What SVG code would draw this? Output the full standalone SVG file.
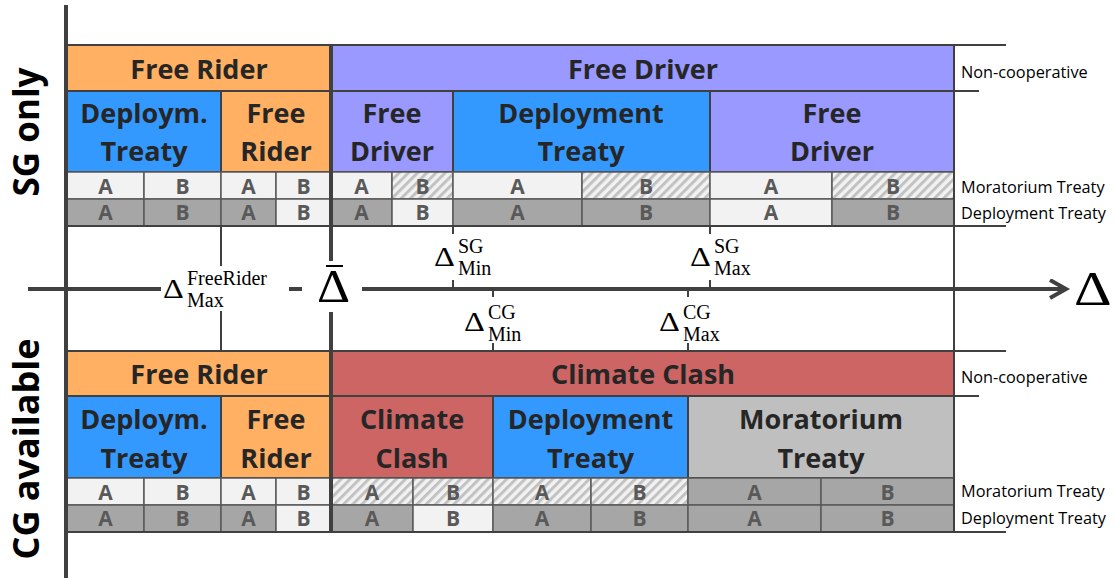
<svg xmlns="http://www.w3.org/2000/svg" width="1117" height="581" viewBox="0 0 1117 581">
<style>
.bg{fill:#ffffff}
.or{fill:#FFB063}
.pu{fill:#9999FF}
.bl{fill:#3399FF}
.rd{fill:#CD6565}
.gy{fill:#BFBFBF}
.L{fill:#F2F2F2}
.D{fill:#A6A6A6}
.H{fill:url(#hatch)}
.cell{stroke:#404040;stroke-width:2}
.ab{stroke:#595959;stroke-width:1.5}
.t{font-family:"Open Sans","Liberation Sans",sans-serif;font-weight:700;font-size:27px;fill:#262626;text-anchor:middle}
.l{font-family:"Open Sans","Liberation Sans",sans-serif;font-weight:700;font-size:21px;fill:#595959;text-anchor:middle}
.s{font-family:"Open Sans","Liberation Sans",sans-serif;font-weight:400;font-size:16.3px;fill:#000}
.side{font-family:"Open Sans","Liberation Sans",sans-serif;font-weight:700;fill:#000;text-anchor:middle}
.m{font-family:"Liberation Serif","DejaVu Serif",serif;fill:#000}
.d{font-size:27px}
.sc{font-size:20px}
.ln{stroke:#404040;stroke-width:2;fill:none}
.thk{stroke:#404040;stroke-width:4;fill:none}
</style>
<defs>
<pattern id="hatch" patternUnits="userSpaceOnUse" width="6.5" height="6.5" patternTransform="rotate(45)">
<rect width="6.5" height="6.5" fill="#F2F2F2"/>
<rect x="0" y="0" width="3" height="6.5" fill="#C2C2C2"/>
</pattern>
<marker id="chev" markerUnits="userSpaceOnUse" markerWidth="24" markerHeight="24" refX="18" refY="10" orient="auto">
<polyline points="2,1 18,10 2,19" fill="none" stroke="#404040" stroke-width="4" stroke-linejoin="miter"/>
</marker>
</defs>
<rect class="bg" x="0" y="0" width="1117" height="581"/>

<!-- side labels -->
<g id="label-sg-only"><text class="side" font-size="35" transform="translate(39,132) rotate(-90)">SG  only</text></g>
<g id="label-cg-available"><text class="side" font-size="36" transform="translate(39,449) rotate(-90)">CG available</text></g>

<!-- TOP SECTION -->
<g id="top-nc-free-rider"><rect class="cell or" x="67" y="45" width="264" height="46"/><text class="t" x="199" y="79">Free Rider</text></g>
<g id="top-nc-free-driver"><rect class="cell pu" x="331" y="45" width="623" height="46"/><text class="t" x="643" y="79">Free Driver</text></g>

<g id="top-c1-deploym-treaty"><rect class="cell bl" x="67" y="91" width="154" height="81"/><text class="t" x="144" y="123">Deploym.</text><text class="t" x="144" y="161">Treaty</text></g>
<g id="top-c2-free-rider"><rect class="cell or" x="221" y="91" width="110" height="81"/><text class="t" x="276" y="123">Free</text><text class="t" x="276" y="161">Rider</text></g>
<g id="top-c3-free-driver"><rect class="cell pu" x="331" y="91" width="122" height="81"/><text class="t" x="392" y="123">Free</text><text class="t" x="392" y="161">Driver</text></g>
<g id="top-c4-deployment-treaty"><rect class="cell bl" x="453" y="91" width="257" height="81"/><text class="t" x="581" y="123">Deployment</text><text class="t" x="581" y="161">Treaty</text></g>
<g id="top-c5-free-driver"><rect class="cell pu" x="710" y="91" width="244" height="81"/><text class="t" x="832" y="123">Free</text><text class="t" x="832" y="161">Driver</text></g>

<g id="top-moratorium-row">
<rect class="ab L" x="67" y="172" width="77" height="27"/><text class="l" x="105.5" y="194">A</text>
<rect class="ab L" x="144" y="172" width="77" height="27"/><text class="l" x="182.5" y="194">B</text>
<rect class="ab L" x="221" y="172" width="55" height="27"/><text class="l" x="248.5" y="194">A</text>
<rect class="ab L" x="276" y="172" width="55" height="27"/><text class="l" x="303.5" y="194">B</text>
<rect class="ab L" x="331" y="172" width="61" height="27"/><text class="l" x="361.5" y="194">A</text>
<rect class="ab H" x="392" y="172" width="61" height="27"/><text class="l" x="422.5" y="194">B</text>
<rect class="ab L" x="453" y="172" width="129" height="27"/><text class="l" x="517.5" y="194">A</text>
<rect class="ab H" x="582" y="172" width="128" height="27"/><text class="l" x="646" y="194">B</text>
<rect class="ab L" x="710" y="172" width="122" height="27"/><text class="l" x="771" y="194">A</text>
<rect class="ab H" x="832" y="172" width="122" height="27"/><text class="l" x="893" y="194">B</text>
</g>
<g id="top-deployment-row">
<rect class="ab D" x="67" y="199" width="77" height="27"/><text class="l" x="105.5" y="220">A</text>
<rect class="ab D" x="144" y="199" width="77" height="27"/><text class="l" x="182.5" y="220">B</text>
<rect class="ab D" x="221" y="199" width="55" height="27"/><text class="l" x="248.5" y="220">A</text>
<rect class="ab L" x="276" y="199" width="55" height="27"/><text class="l" x="303.5" y="220">B</text>
<rect class="ab D" x="331" y="199" width="61" height="27"/><text class="l" x="361.5" y="220">A</text>
<rect class="ab L" x="392" y="199" width="61" height="27"/><text class="l" x="422.5" y="220">B</text>
<rect class="ab D" x="453" y="199" width="129" height="27"/><text class="l" x="517.5" y="220">A</text>
<rect class="ab D" x="582" y="199" width="128" height="27"/><text class="l" x="646" y="220">B</text>
<rect class="ab L" x="710" y="199" width="122" height="27"/><text class="l" x="771" y="220">A</text>
<rect class="ab D" x="832" y="199" width="122" height="27"/><text class="l" x="893" y="220">B</text>
</g>

<!-- BOTTOM SECTION -->
<g id="bot-nc-free-rider"><rect class="cell or" x="67" y="351" width="264" height="45"/><text class="t" x="199" y="384">Free Rider</text></g>
<g id="bot-nc-climate-clash"><rect class="cell rd" x="331" y="351" width="623" height="45"/><text class="t" x="643" y="384">Climate Clash</text></g>

<g id="bot-c1-deploym-treaty"><rect class="cell bl" x="67" y="396" width="154" height="82"/><text class="t" x="144" y="429">Deploym.</text><text class="t" x="144" y="468">Treaty</text></g>
<g id="bot-c2-free-rider"><rect class="cell or" x="221" y="396" width="110" height="82"/><text class="t" x="276" y="429">Free</text><text class="t" x="276" y="468">Rider</text></g>
<g id="bot-c3-climate-clash"><rect class="cell rd" x="331" y="396" width="162" height="82"/><text class="t" x="412" y="429">Climate</text><text class="t" x="412" y="468">Clash</text></g>
<g id="bot-c4-deployment-treaty"><rect class="cell bl" x="493" y="396" width="195" height="82"/><text class="t" x="590.5" y="429">Deployment</text><text class="t" x="590.5" y="468">Treaty</text></g>
<g id="bot-c5-moratorium-treaty"><rect class="cell gy" x="688" y="396" width="266" height="82"/><text class="t" x="821" y="429">Moratorium</text><text class="t" x="821" y="468">Treaty</text></g>

<g id="bot-moratorium-row">
<rect class="ab L" x="67" y="478" width="77" height="27"/><text class="l" x="105.5" y="500">A</text>
<rect class="ab L" x="144" y="478" width="77" height="27"/><text class="l" x="182.5" y="500">B</text>
<rect class="ab L" x="221" y="478" width="55" height="27"/><text class="l" x="248.5" y="500">A</text>
<rect class="ab L" x="276" y="478" width="55" height="27"/><text class="l" x="303.5" y="500">B</text>
<rect class="ab H" x="331" y="478" width="82" height="27"/><text class="l" x="372" y="500">A</text>
<rect class="ab H" x="413" y="478" width="80" height="27"/><text class="l" x="453" y="500">B</text>
<rect class="ab H" x="493" y="478" width="98" height="27"/><text class="l" x="542" y="500">A</text>
<rect class="ab H" x="591" y="478" width="97" height="27"/><text class="l" x="639.5" y="500">B</text>
<rect class="ab D" x="688" y="478" width="133" height="27"/><text class="l" x="754.5" y="500">A</text>
<rect class="ab D" x="821" y="478" width="133" height="27"/><text class="l" x="887.5" y="500">B</text>
</g>
<g id="bot-deployment-row">
<rect class="ab D" x="67" y="505" width="77" height="27"/><text class="l" x="105.5" y="526">A</text>
<rect class="ab D" x="144" y="505" width="77" height="27"/><text class="l" x="182.5" y="526">B</text>
<rect class="ab D" x="221" y="505" width="55" height="27"/><text class="l" x="248.5" y="526">A</text>
<rect class="ab L" x="276" y="505" width="55" height="27"/><text class="l" x="303.5" y="526">B</text>
<rect class="ab D" x="331" y="505" width="82" height="27"/><text class="l" x="372" y="526">A</text>
<rect class="ab L" x="413" y="505" width="80" height="27"/><text class="l" x="453" y="526">B</text>
<rect class="ab D" x="493" y="505" width="98" height="27"/><text class="l" x="542" y="526">A</text>
<rect class="ab D" x="591" y="505" width="97" height="27"/><text class="l" x="639.5" y="526">B</text>
<rect class="ab D" x="688" y="505" width="133" height="27"/><text class="l" x="754.5" y="526">A</text>
<rect class="ab D" x="821" y="505" width="133" height="27"/><text class="l" x="887.5" y="526">B</text>
</g>

<!-- row labels -->
<g id="row-labels">
<text class="s" x="961" y="78">Non-cooperative</text>
<text class="s" x="961" y="193">Moratorium Treaty</text>
<text class="s" x="961" y="219">Deployment Treaty</text>
<text class="s" x="961" y="383">Non-cooperative</text>
<text class="s" x="961" y="497">Moratorium Treaty</text>
<text class="s" x="961" y="524">Deployment Treaty</text>
</g>

<!-- CONNECTORS / GRID LINES -->
<g id="connectors">
<line class="ln" x1="66" y1="45" x2="1006" y2="45"/>
<line class="ln" x1="954" y1="91" x2="979" y2="91"/>
<line class="ln" x1="66" y1="226" x2="1006" y2="226"/>
<line class="ln" x1="66" y1="351" x2="1006" y2="351"/>
<line class="ln" x1="954" y1="396" x2="979" y2="396"/>
<line class="ln" x1="66" y1="532" x2="1006" y2="532"/>
<line class="ln" x1="954" y1="45" x2="954" y2="532"/>
<line class="thk" x1="66" y1="5" x2="66" y2="578"/>
<line class="thk" x1="331" y1="45" x2="331" y2="261"/>
<line class="thk" x1="331" y1="312" x2="331" y2="532"/>
<line class="ln" x1="221" y1="226" x2="221" y2="266"/>
<line class="ln" x1="221" y1="311" x2="221" y2="351"/>
<line class="ln" x1="453" y1="226" x2="453" y2="234"/>
<line class="ln" x1="453" y1="280" x2="453" y2="289"/>
<line class="ln" x1="710" y1="226" x2="710" y2="234"/>
<line class="ln" x1="710" y1="280" x2="710" y2="289"/>
<line class="ln" x1="493" y1="289" x2="493" y2="297"/>
<line class="ln" x1="493" y1="343" x2="493" y2="351"/>
<line class="ln" x1="688" y1="289" x2="688" y2="297"/>
<line class="ln" x1="688" y1="343" x2="688" y2="351"/>
<line class="thk" x1="28" y1="289" x2="161" y2="289"/>
<line class="thk" x1="289" y1="289" x2="302" y2="289"/>
<line class="thk" x1="362" y1="289" x2="1066" y2="289" marker-end="url(#chev)"/>
</g>

<!-- axis labels -->
<g id="label-delta-freerider-max">
<text class="m d" transform="translate(163,298) scale(1.2,1)">Δ</text>
<text class="m sc" x="187" y="285">FreeRider</text>
<text class="m sc" x="187" y="307">Max</text>
</g>
<g id="label-delta-bar">
<text class="m" font-size="46" transform="translate(317,302) scale(1.12,1)">Δ</text>
<line x1="326" y1="266" x2="343" y2="266" stroke="#000" stroke-width="2"/>
</g>
<g id="label-delta-sg-min">
<text class="m d" transform="translate(434,266) scale(1.2,1)">Δ</text>
<text class="m sc" x="458" y="253">SG</text>
<text class="m sc" x="458" y="275">Min</text>
</g>
<g id="label-delta-sg-max">
<text class="m d" transform="translate(690,266) scale(1.2,1)">Δ</text>
<text class="m sc" x="714" y="253">SG</text>
<text class="m sc" x="714" y="275">Max</text>
</g>
<g id="label-delta-cg-min">
<text class="m d" transform="translate(464,331) scale(1.2,1)">Δ</text>
<text class="m sc" x="488" y="319">CG</text>
<text class="m sc" x="488" y="341">Min</text>
</g>
<g id="label-delta-cg-max">
<text class="m d" transform="translate(659,331) scale(1.2,1)">Δ</text>
<text class="m sc" x="683" y="319">CG</text>
<text class="m sc" x="683" y="341">Max</text>
</g>
<g id="label-delta-axis">
<text class="m" font-size="48" transform="translate(1074,305) scale(1.22,1)">Δ</text>
</g>
</svg>
